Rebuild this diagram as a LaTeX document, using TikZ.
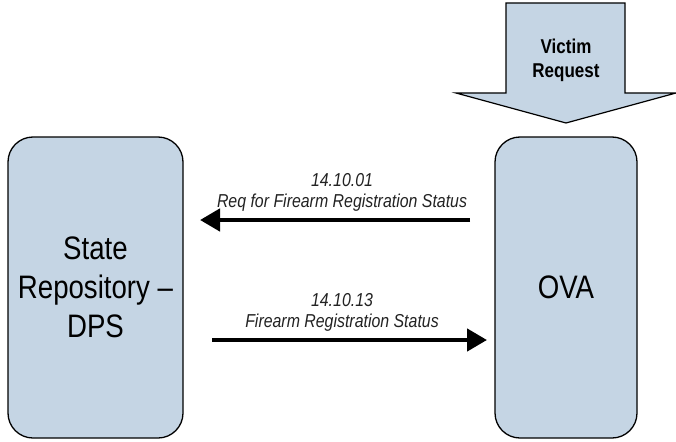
\documentclass[tikz,border=0pt]{standalone}
\usepackage{fontspec}
\setmainfont{Liberation Sans}[FakeStretch=0.85]
\usetikzlibrary{arrows.meta}
\definecolor{boxfill}{RGB}{197,213,228}
\definecolor{labelgray}{RGB}{34,34,34}
\begin{document}
\begin{tikzpicture}[x=1pt,y=-1pt,
  sysbox/.style={draw=black, line width=1.3pt, fill=boxfill, rounded corners=25pt,
    minimum height=301pt, inner sep=0pt, align=center,
    font=\fontsize{32.5}{39}\selectfont},
  flowlabel/.style={align=center, text=labelgray,
    font=\fontsize{18.7}{21}\selectfont\itshape},
  flow/.style={line width=4.5pt, -{Triangle[length=20pt,width=22pt]}},
  inputarrow/.style={draw=black, line width=1.2pt, fill=boxfill, line join=miter}
]
\useasboundingbox (0,0) rectangle (676,441);

% system boxes
\node[sysbox, minimum width=175pt] (dps) at (95.5,287.5) {State\\Repository –\\DPS};
\node[sysbox, minimum width=142pt] (ova) at (566,287.5) {OVA};

% incoming request block arrow
\draw[inputarrow] (506,3) -- (625,3) -- (625,93) -- (676,93) -- (566,123)
  -- (456,93) -- (506,93) -- cycle;
\node[align=center, font=\fontsize{20}{24}\bfseries\selectfont] (victim) at (566,60) {Victim\\Request};

% message flows
\coordinate (reqtail) at (470,220);
\coordinate (reqtip) at (200,220);
\coordinate (stattail) at (212,340);
\coordinate (stattip) at (487,340);
\draw[flow] (reqtail) -- (reqtip);
\draw[flow] (stattail) -- (stattip);
\node[flowlabel] (reqlbl) at (342,192.5) {14.10.01\\Req for Firearm Registration Status};
\node[flowlabel] (statlbl) at (342,312.5) {14.10.13\\Firearm Registration Status};
\end{tikzpicture}
\end{document}
